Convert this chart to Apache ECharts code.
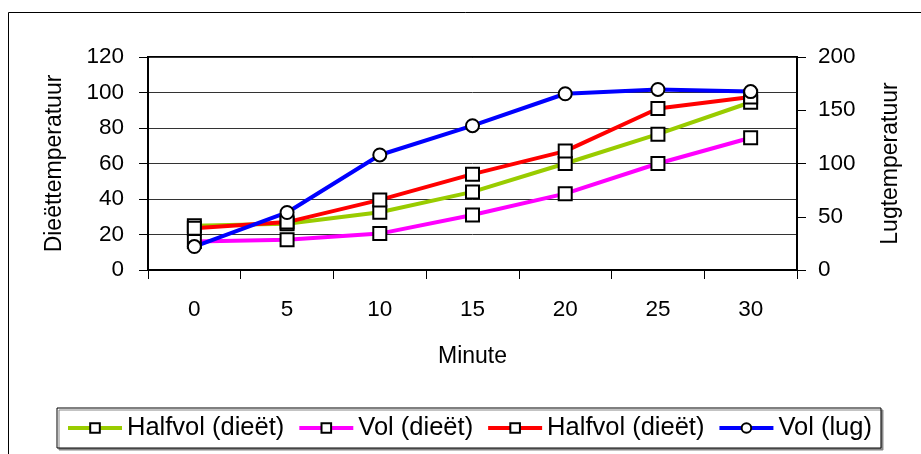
<!DOCTYPE html>
<html>
<head>
<meta charset="utf-8">
<script src="https://cdn.jsdelivr.net/npm/echarts@6/dist/echarts.min.js"></script>
<style>
  html, body { margin: 0; padding: 0; background: #fff; }
  #chart { width: 921px; height: 454px; }
</style>
</head>
<body>
<div id="chart"></div>
<script>
// minuten op de x-as
var minutes = ['0', '5', '10', '15', '20', '25', '30'];

// dieettemperatuur (linker as)
var halfvolDieet = [25, 26, 32.5, 44, 60, 76.5, 94.5];
var volDieet = [16, 17, 20.5, 31, 43, 60, 74.5];
var halfvolDieet2 = [23.5, 27, 39.5, 54, 67, 91, 97.5];

// lugtemperatuur (rechter as)
var volLug = [22, 54, 108, 135.5, 165.5, 169.5, 167.5];

// legendatekst (twee reeksen hebben dezelfde naam)
var legendNames = {
    s1: 'Halfvol (dieët)',
    s2: 'Vol (dieët)',
    s3: 'Halfvol (dieët)',
    s4: 'Vol (lug)'
};

var font = 'Liberation Sans, Arial, sans-serif';

var chart = echarts.init(document.getElementById('chart'));

function lineSeries(name, data, color, symbol, yIndex) {
    return {
        name: name,
        type: 'line',
        yAxisIndex: yIndex,
        data: data,
        symbol: symbol,
        symbolSize: 13,
        lineStyle: { color: color, width: 4 },
        itemStyle: { color: '#fff', borderColor: '#000', borderWidth: 2 },
        emphasis: { disabled: true },
        animation: false
    };
}

chart.setOption({
    graphic: [{
        type: 'rect',
        shape: { x: 8.5, y: 12.5, width: 1000, height: 1000 },
        style: { fill: 'none', stroke: '#000', lineWidth: 1 },
        z: -1
    }],
    grid: {
        left: 148, right: 124, top: 57, bottom: 184,
        show: true, borderColor: '#000', borderWidth: 2
    },
    legend: {
        left: 57, top: 408,
        padding: [7, 9],
        itemGap: 13,
        itemWidth: 54,
        itemHeight: 12,
        borderColor: '#000',
        borderWidth: 1,
        backgroundColor: '#fff',
        shadowColor: '#888',
        shadowOffsetX: 2,
        shadowOffsetY: 2,
        lineStyle: { width: 4 },
        data: ['s1', 's2', 's3', 's4'],
        formatter: function (name) { return legendNames[name]; },
        textStyle: { fontFamily: font, fontSize: 25.5, color: '#000' },
        selectedMode: false
    },
    xAxis: {
        type: 'category',
        data: minutes,
        boundaryGap: true,
        name: 'Minute',
        nameLocation: 'middle',
        nameGap: 75,
        nameTextStyle: { fontFamily: font, fontSize: 23, color: '#000' },
        axisLine: { lineStyle: { color: '#000', width: 2 } },
        axisTick: { show: true, length: 9, lineStyle: { color: '#000', width: 1 } },
        axisLabel: { fontFamily: font, fontSize: 22.5, color: '#000', margin: 28 },
        splitLine: { show: false }
    },
    yAxis: [{
        type: 'value',
        min: 0, max: 120, interval: 20,
        name: 'Dieëttemperatuur',
        nameLocation: 'middle',
        nameRotate: 90,
        nameGap: 82,
        nameTextStyle: { fontFamily: font, fontSize: 23, color: '#000' },
        axisLine: { show: true, lineStyle: { color: '#000', width: 2 } },
        axisTick: { show: true, length: 9, lineStyle: { color: '#000', width: 1 } },
        axisLabel: { fontFamily: font, fontSize: 22.5, color: '#000', margin: 24 },
        splitLine: { show: true, lineStyle: { color: '#333', width: 1 } }
    }, {
        type: 'value',
        min: 0, max: 200, interval: 50,
        name: 'Lugtemperatuur',
        nameLocation: 'middle',
        nameRotate: 90,
        nameGap: 82,
        nameTextStyle: { fontFamily: font, fontSize: 23, color: '#000' },
        axisLine: { show: true, lineStyle: { color: '#000', width: 2 } },
        axisTick: { show: true, length: 9, lineStyle: { color: '#000', width: 1 } },
        axisLabel: { fontFamily: font, fontSize: 22.5, color: '#000', margin: 21 },
        splitLine: { show: false }
    }],
    series: [
        lineSeries('s1', halfvolDieet, '#99cc00', 'rect', 0),
        lineSeries('s2', volDieet, '#ff00ff', 'rect', 0),
        lineSeries('s3', halfvolDieet2, '#ff0000', 'rect', 0),
        lineSeries('s4', volLug, '#0000ff', 'circle', 1)
    ]
});
</script>
</body>
</html>
